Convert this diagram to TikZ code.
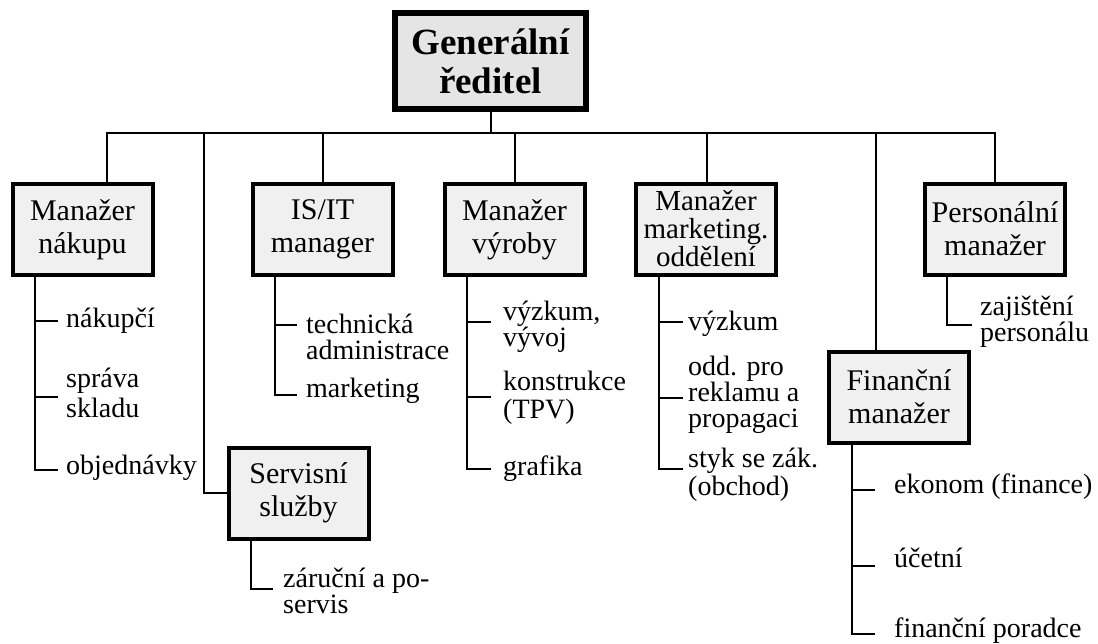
\documentclass[tikz,border=0pt]{standalone}
\usepackage{fontspec}
\setmainfont{Liberation Serif}
\begin{document}
\begin{tikzpicture}[x=1pt,y=-1pt,
  boss/.style={draw, line width=6pt, fill=black!10, minimum width=191pt, minimum height=96pt,
    align=center, inner sep=0pt, font=\fontsize{37}{39}\selectfont\bfseries},
  mgr/.style={draw, line width=4pt, fill=black!6, minimum width=140pt, minimum height=91pt,
    align=center, inner sep=0pt, font=\fontsize{30}{33}\selectfont},
  leaf/.style={inner sep=0pt, align=left, anchor=base west, font=\fontsize{28}{26}\selectfont},
  wire/.style={line width=2pt}]
\useasboundingbox (0,0) rectangle (1098,643);

% head and department boxes
\node[boss] (gr) at (490.5,61) {Generální\\ředitel};
\node[mgr] (nak) at (82.5,229.5) {Manažer\\nákupu};
\node[mgr] (isit) at (322.5,229) {IS/IT\\manager};
\node[mgr] (vyr) at (514.5,229.5) {Manažer\\výroby};
\node[mgr, font=\fontsize{29}{28}\selectfont] (mkt) at (706,229) {Manažer\\marketing.\\oddělení};
\node[mgr] (pers) at (995,229) {Personální\\manažer};
\node[mgr] (fin) at (899,397) {Finanční\\manažer};
\node[mgr] (serv) at (298.5,493) {Servisní\\služby};

% bus below the head
\coordinate (b1) at (107,133);
\coordinate (b2) at (204,133);
\coordinate (b3) at (323,133);
\coordinate (b5) at (515,133);
\coordinate (b6) at (707,133);
\coordinate (b7) at (876,133);
\coordinate (b8) at (995,133);
\draw[wire] (gr.south) -- (gr.south |- b1);
\draw[wire] (b1 |- nak.north) -- (b1) -- (b8) -- (b8 |- pers.north);
\draw[wire] (b2) |- (serv.west);
\draw[wire] (b3) -- (b3 |- isit.north);
\draw[wire] (b5) -- (b5 |- vyr.north);
\draw[wire] (b6) -- (b6 |- mkt.north);
\draw[wire] (b7) -- (b7 |- fin.north);

% Manažer nákupu (leaf nodes sit on the baseline of their last line)
\node[leaf] (n1) at (66,327) {nákupčí};
\node[leaf, font=\fontsize{28}{30}\selectfont] (n2) at (66,417) {správa\\skladu};
\node[leaf] (n3) at (66,474) {objednávky};
\draw[wire] ([xshift=-8pt,yshift=4pt]n3.base west) -- ++(-23,0) coordinate (sn) -- (sn |- nak.south);
\draw[wire] ([xshift=-8pt,yshift=6pt]n1.base west) -- ++(-23,0);
\draw[wire] ([xshift=-8pt,yshift=20pt]n2.base west) -- ++(-23,0);

% IS/IT manager
\node[leaf] (i1) at (306,359) {technická\\administrace};
\node[leaf] (i2) at (306,397) {marketing};
\draw[wire] ([xshift=-9pt,yshift=2pt]i2.base west) -- ++(-22,0) coordinate (si) -- (si |- isit.south);
\draw[wire] ([xshift=-9pt,yshift=34pt]i1.base west) -- ++(-22,0);

% Manažer výroby
\node[leaf] (v1) at (503,346) {výzkum,\\vývoj};
\node[leaf, font=\fontsize{28}{28}\selectfont] (v2) at (503,418) {konstrukce\\(TPV)};
\node[leaf] (v3) at (503,475) {grafika};
\draw[wire] ([xshift=-12pt,yshift=6pt]v3.base west) -- ++(-24,0) coordinate (sv) -- (sv |- vyr.south);
\draw[wire] ([xshift=-12pt,yshift=24pt]v1.base west) -- ++(-24,0);
\draw[wire] ([xshift=-12pt,yshift=21pt]v2.base west) -- ++(-24,0);

% Manažer marketing. oddělení
\node[leaf] (m1) at (688,330) {výzkum};
\node[leaf] (m2) at (688,427) {odd. pro\\reklamu a\\propagaci};
\node[leaf, font=\fontsize{28}{28}\selectfont] (m3) at (688,495) {styk se zák.\\(obchod)};
\draw[wire] ([xshift=-5pt,yshift=26pt]m3.base west) -- ++(-24,0) coordinate (sm) -- (sm |- mkt.south);
\draw[wire] ([xshift=-5pt,yshift=8pt]m1.base west) -- ++(-24,0);
\draw[wire] ([xshift=-5pt,yshift=29pt]m2.base west) -- ++(-24,0);

% Servisní služby
\node[leaf] (s1) at (283,613) {záruční a po-\\servis};
\draw[wire] ([xshift=-10pt,yshift=24pt]s1.base west) -- ++(-22,0) coordinate (ss) -- (ss |- serv.south);

% Personální manažer
\node[leaf] (p1) at (980,341) {zajištění\\personálu};
\draw[wire] ([xshift=-8pt,yshift=16pt]p1.base west) -- ++(-25,0) coordinate (sp) -- (sp |- pers.south);

% Finanční manažer
\node[leaf] (f1) at (894,493) {ekonom (finance)};
\node[leaf] (f2) at (894,567) {účetní};
\node[leaf] (f3) at (894,637) {finanční poradce};
\draw[wire] ([xshift=-19pt,yshift=3pt]f3.base west) -- ++(-23,0) coordinate (sf) -- (sf |- fin.south);
\draw[wire] ([xshift=-19pt,yshift=3pt]f1.base west) -- ++(-23,0);
\draw[wire] ([xshift=-19pt,yshift=1pt]f2.base west) -- ++(-23,0);
\end{tikzpicture}
\end{document}
